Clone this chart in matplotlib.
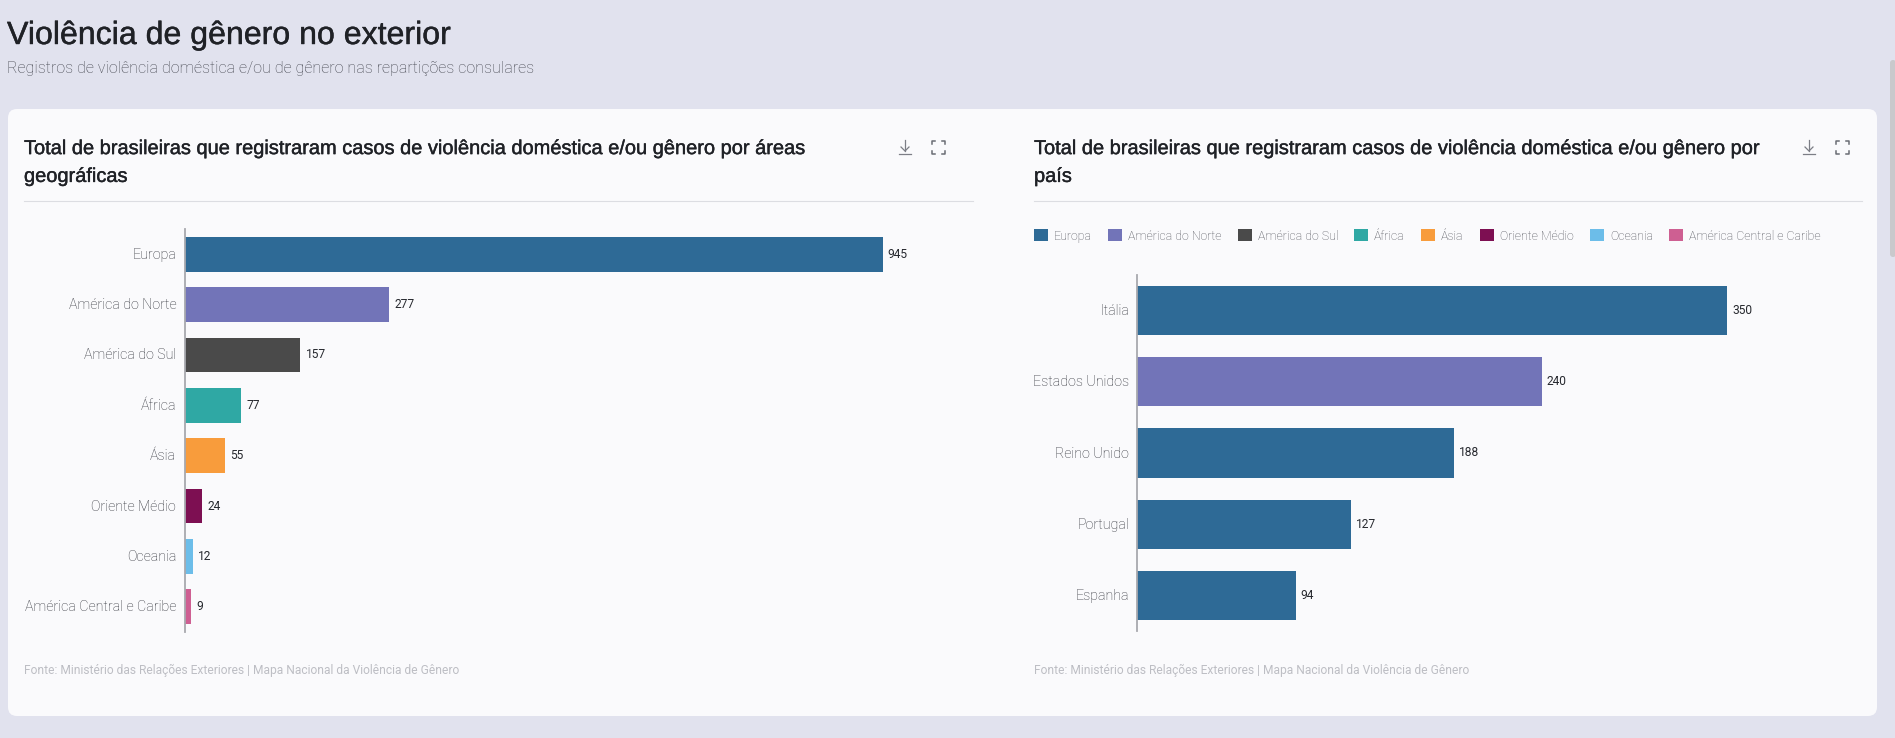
import matplotlib
matplotlib.use("Agg")
import matplotlib.pyplot as plt
import matplotlib.patheffects as pe
from matplotlib.patches import FancyBboxPatch, Patch
from matplotlib.transforms import ScaledTranslation

areas = ["Europa", "América do Norte", "América do Sul", "África", "Ásia",
         "Oriente Médio", "Oceania", "América Central e Caribe"]
area_values = [945, 277, 157, 77, 55, 24, 12, 9]
area_colors = ["#2E6A96", "#7274B8", "#4A4A4A", "#2FA8A4", "#F89C3C",
               "#7D0F52", "#6CBDE9", "#CE5F92"]
countries = ["Itália", "Estados Unidos", "Reino Unido", "Portugal", "Espanha"]
country_values = [350, 240, 188, 127, 94]
country_colors = ["#2E6A96", "#7274B8", "#2E6A96", "#2E6A96", "#2E6A96"]

title = "Violência de gênero no exterior"
subtitle = "Registros de violência doméstica e/ou de gênero nas repartições consulares"
left_title = "Total de brasileiras que registraram casos de violência doméstica e/ou gênero por áreas\ngeográficas"
right_title = "Total de brasileiras que registraram casos de violência doméstica e/ou gênero por\npaís"
source = "Fonte: Ministério das Relações Exteriores | Mapa Nacional da Violência de Gênero"

W, H = 1895, 738
BG, CARD = "#E1E2EE", "#FAFAFC"
px = 72 / 100
fig = plt.figure(figsize=(W / 100, H / 100), dpi=100, facecolor=BG)

page = fig.add_axes([0, 0, 1, 1])
page.set_xlim(0, W); page.set_ylim(H, 0); page.axis("off")

page.add_patch(FancyBboxPatch((8, 109), 1869, 607, boxstyle="round,pad=0,rounding_size=9",
                              fc=CARD, ec="none"))
page.add_patch(FancyBboxPatch((1890, 60), 6, 197, boxstyle="round,pad=0,rounding_size=3",
                              fc="#C9C9CC", ec="none"))

heavy = [pe.withStroke(linewidth=0.3, foreground="#1F2126")]
page.text(7, 36, title, fontsize=32.1 * px, family="Liberation Sans", color="#1F2126", va="center",
          path_effects=heavy)
page.text(7, 68, subtitle, fontsize=16.1 * px, family="Roboto", weight="light", color="#44464F", va="center")

for x0, x1, ttl, ix in ((24, 973, left_title, (905, 938)), (1034, 1862, right_title, (1809, 1842))):
    page.text(x0, 162.5, ttl, fontsize=20.02 * px, family="Liberation Sans", color="#1F2126",
              va="center", linespacing=1.59, path_effects=heavy)
    page.plot([x0, x1], [201, 201], color="#DCDDE2", lw=0.8)
    page.text(x0, 670, source, fontsize=11.96 * px, family="Roboto", color="#BDBEC4", va="center")
    # download icon
    dx = ix[0]
    page.plot([dx, dx], [140, 151], color="#7C7E86", lw=0.9)
    page.plot([dx - 4, dx, dx + 4], [147, 151, 147], color="#7C7E86", lw=0.9)
    page.plot([dx - 6, dx + 6], [154, 154], color="#7C7E86", lw=0.9)
    # fullscreen icon
    fx, fy, r, t = ix[1], 147, 6.5, 3
    for sx in (-1, 1):
        for sy in (-1, 1):
            page.plot([fx + sx * r, fx + sx * r, fx + sx * (r - t)],
                      [fy + sy * (r - t), fy + sy * r, fy + sy * r], color="#6A6C74", lw=1.1)


def panel(left, right, top, bottom, labels, values, colors, xmax):
    ax = fig.add_axes([left / W, 1 - bottom / H, (right - left) / W, (bottom - top) / H])
    ax.set_facecolor("none")
    ax.barh(range(len(labels)), values, height=0.69, color=colors)
    ax.set_ylim(len(labels) - 0.5, -0.5)
    ax.set_xlim(0, xmax)
    ax.set_yticks(range(len(labels)), labels)
    ax.tick_params(axis="y", length=0, pad=6, labelsize=14.3 * px, labelcolor="#2E3038")
    shift = ScaledTranslation(0, 1 * px / 72, fig.dpi_scale_trans)
    for t in ax.get_yticklabels():
        t.set_family("Roboto"); t.set_weight("light")
        t.set_transform(t.get_transform() + shift)
    ax.xaxis.set_visible(False)
    for s in ("top", "right", "bottom"):
        ax.spines[s].set_visible(False)
    ax.spines["left"].set_color("#A8A9AE")
    ax.spines["left"].set_linewidth(1.3)
    for i, v in enumerate(values):
        ax.annotate(str(v), (v, i), xytext=(5 * px, 0), textcoords="offset points", va="center",
                    fontsize=12 * px, family="Roboto", color="#26282E")
    return ax


panel(184.5, 970, 229, 632, areas, area_values, area_colors, 1063.2)
panel(1137.3, 1860, 275, 631, countries, country_values, country_colors, 428.7)

handles = [Patch(fc=c, ec="none", label=a) for a, c in zip(areas, area_colors)]
leg = page.legend(handles=handles, ncol=8, frameon=False, loc="center left",
                  bbox_to_anchor=(1034 / W, 1 - 236 / H), bbox_transform=fig.transFigure,
                  borderpad=0, borderaxespad=0, handlelength=14 / 12.45, handleheight=14 / 12.45,
                  handletextpad=5.7 / 12.45, columnspacing=16.5 / 12.45,
                  prop={"family": "Roboto", "size": 12.45 * px, "weight": "light"}, labelcolor="#50525A")

fig.savefig("out.png", dpi=100, facecolor=BG)
